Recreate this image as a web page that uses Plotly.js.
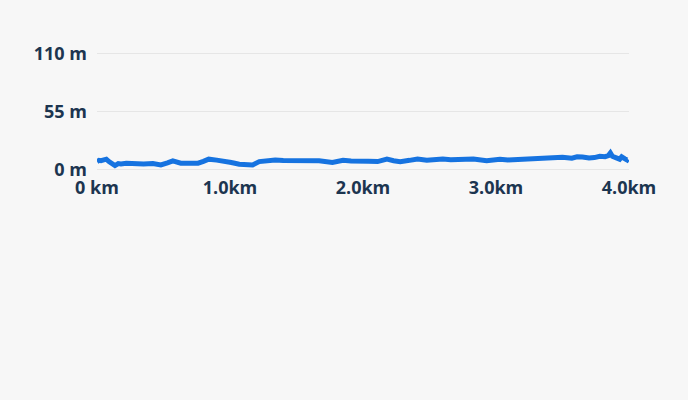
<!DOCTYPE html>
<html>
<head>
<meta charset="utf-8">
<script src="https://cdn.plot.ly/plotly-3.0.1.min.js"></script>
<style>
  html, body { margin: 0; padding: 0; background: #f7f7f7; }
  #chart { width: 688px; height: 400px; }
</style>
</head>
<body>
<div id="chart"></div>
<script>
// Elevation profile (distance in km, elevation in m)
const distanceKm = [
  0.00, 0.015, 0.03, 0.05, 0.07, 0.09, 0.11, 0.135, 0.16, 0.18,
  0.22, 0.255, 0.30, 0.35, 0.42, 0.48, 0.53, 0.57, 0.63, 0.70,
  0.76, 0.80, 0.84, 0.90, 0.95, 1.01, 1.07, 1.17, 1.22, 1.28,
  1.34, 1.40, 1.47, 1.57, 1.67, 1.77, 1.85, 1.91, 1.97, 2.04,
  2.11, 2.18, 2.23, 2.28, 2.35, 2.41, 2.48, 2.54, 2.60, 2.66,
  2.73, 2.83, 2.93, 3.03, 3.09, 3.14, 3.22, 3.32, 3.39, 3.45,
  3.50, 3.57, 3.61, 3.65, 3.70, 3.74, 3.78, 3.82, 3.845, 3.86,
  3.875, 3.90, 3.93, 3.945, 3.955, 3.97, 3.985, 3.99
];
const elevationM = [
  7.8, 9.0, 8.7, 9.5, 10.1, 7.8, 6.5, 4.0, 5.9, 5.6,
  6.2, 5.9, 6.3, 5.6, 5.9, 4.7, 6.6, 8.5, 6.3, 6.8,
  6.3, 8.0, 10.1, 9.2, 8.5, 7.0, 5.4, 4.7, 7.8, 8.6,
  9.4, 8.8, 8.7, 9.2, 8.5, 6.9, 9.1, 8.4, 8.7, 8.2,
  7.8, 10.1, 8.6, 7.8, 9.0, 10.3, 9.1, 9.8, 10.3, 9.6,
  9.4, 10.3, 8.7, 10.1, 9.4, 9.7, 9.9, 9.7, 11.0, 10.8,
  11.9, 11.0, 12.4, 12.2, 11.2, 11.6, 12.8, 12.5, 13.5, 16.0,
  12.8, 11.6, 10.1, 12.3, 11.9, 10.4, 9.4, 10.3
];

const xTickVals = [0, 1, 2, 3, 4];
const xTickText = ['0 km', '1.0km', '2.0km', '3.0km', '4.0km'];
const yTickVals = [0, 55, 110];
const yTickText = ['0 m', '55 m', '110 m'];

const TEXT_COLOR = '#1c3550';
const LINE_COLOR = '#1673e0';

const data = [{
  x: distanceKm,
  y: elevationM,
  type: 'scatter',
  mode: 'lines',
  line: { color: LINE_COLOR, width: 5, shape: 'linear' },
  hoverinfo: 'skip'
}];

const tickFont = { family: '"Open Sans", sans-serif', size: 18, color: TEXT_COLOR, weight: 700 };

const layout = {
  width: 688,
  height: 400,
  paper_bgcolor: '#f7f7f7',
  plot_bgcolor: '#f7f7f7',
  showlegend: false,
  margin: { l: 97, r: 59, t: 49, b: 228 },
  xaxis: {
    range: [0, 4],
    tickvals: xTickVals,
    ticktext: xTickText,
    tickfont: tickFont,
    showgrid: false,
    zeroline: false,
    showline: false,
    ticks: '',
    ticklabelstandoff: 3,
    fixedrange: true
  },
  yaxis: {
    range: [-2, 114],
    tickvals: yTickVals,
    ticktext: yTickText,
    tickfont: tickFont,
    showgrid: true,
    gridcolor: '#e6e6e6',
    gridwidth: 1,
    zeroline: false,
    showline: false,
    ticks: '',
    ticklabelstandoff: 9,
    fixedrange: true
  }
};

Plotly.newPlot('chart', data, layout, { displayModeBar: false, staticPlot: true });
</script>
</body>
</html>
